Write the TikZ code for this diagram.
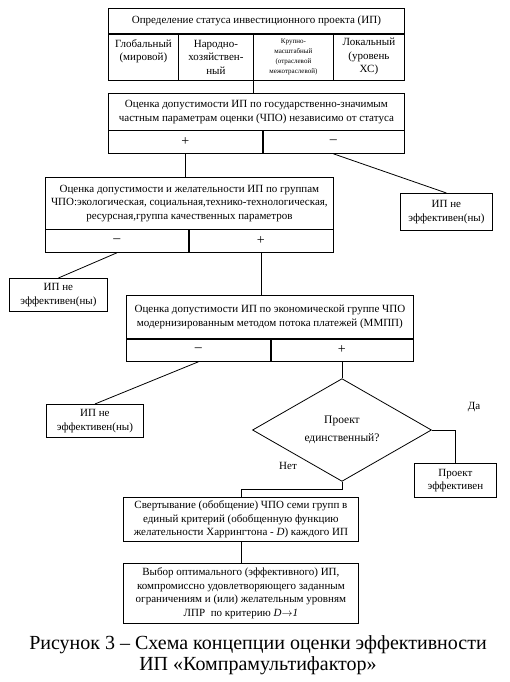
\documentclass[tikz,border=0pt]{standalone}
\usepackage{fontspec}
\setmainfont{Liberation Serif}
\usetikzlibrary{positioning,shapes.geometric,calc}
\tikzset{
  every node/.style={font=\rmfamily\fontsize{11}{13.5}\selectfont},
  cell/.style={
    rectangle, draw, line width=0.8pt,
    anchor=north west, inner sep=0pt,
    align=center
  },
  tinycell/.style={
    cell, font=\rmfamily\fontsize{7}{10}\selectfont
  },
  signcell/.style={
    cell, font=\rmfamily\fontsize{14}{14}\selectfont
  },
  decision/.style={
    diamond, draw, line width=0.8pt,
    minimum width=179pt, minimum height=85pt,
    inner sep=0pt, align=center,
    font=\rmfamily\fontsize{11.5}{18}\selectfont
  },
  link/.style={line width=0.8pt},
  divline/.style={line width=1.8pt},
}

\begin{document}
\begin{tikzpicture}[x=1pt,y=-1pt]
  \useasboundingbox (0,0) rectangle (510,682);
  \node[cell, minimum width=296pt, minimum height=25pt] (t0) at (108,8) {Определение статуса инвестиционного проекта (ИП)};
  \node[cell, minimum width=70pt, minimum height=47pt] (g1) at (108,33) {Глобальный\\(мировой)\\\mbox{}};
  \node[cell, minimum width=75pt, minimum height=47pt] (g2) at (178,33) {Народно-\\хозяйствен-\\ный};
  \node[tinycell, minimum width=80pt, minimum height=47pt] (g3) at (253,33) {Крупно-\\масштабный\\(отраслевой\\межотраслевой)};
  \node[cell, minimum width=71pt, minimum height=47pt] (g4) at (333,33) {Локальный\\(уровень\\ХС)};
  \draw[divline] (t0.south west) -- (t0.south east);

  \node[cell, minimum width=296pt, minimum height=37pt] (b2) at (108,93) {Оценка допустимости ИП по государственно-значимым\\частным параметрам оценки (ЧПО) независимо от статуса};
  \node[signcell, minimum width=154pt, minimum height=23pt] (b2p) at (108,130) {+};
  \node[signcell, minimum width=142pt, minimum height=23pt] (b2m) at (262,130) {–};
  \draw[divline] (b2p.north east) -- (b2p.south east);

  \node[cell, minimum width=92pt, minimum height=37pt] (n1) at (400,193) {ИП не\\эффективен(ны)};

  \node[cell, minimum width=288pt, minimum height=52pt] (b3) at (45,177) {Оценка допустимости и желательности ИП по группам\\ЧПО:экологическая, социальная,технико-технологическая,\\ресурсная,группа качественных параметров};
  \node[signcell, minimum width=143pt, minimum height=23pt] (b3m) at (45,229) {–};
  \node[signcell, minimum width=145pt, minimum height=23pt] (b3p) at (188,229) {+};
  \draw[divline] (b3m.north east) -- (b3m.south east);

  \node[cell, minimum width=98pt, minimum height=33pt] (n2) at (9,278) {ИП не\\эффективен(ны)};

  \node[cell, minimum width=287pt, minimum height=43pt] (b4) at (126,295) {Оценка допустимости ИП по экономической группе ЧПО\\модернизированным методом потока платежей (ММПП)};
  \node[signcell, minimum width=144pt, minimum height=23pt] (b4m) at (126,338) {–};
  \node[signcell, minimum width=143pt, minimum height=23pt] (b4p) at (270,338) {+};
  \draw[divline] (b4.south west) -- (b4.south east);
  \draw[divline] (b4m.north east) -- (b4m.south east);

  \node[cell, minimum width=97pt, minimum height=33pt] (n3) at (46,404) {ИП не\\эффективен(ны)};

  \node[decision] (d) at (342,430) {Проект\\единственный?};
  \node[cell, minimum width=82pt, minimum height=34pt] (n4) at (414,463) {Проект\\эффективен};
  \node (da) at (474,407) {Да};
  \node (net) at (288,466) {Нет};

  \node[cell, minimum width=235pt, minimum height=44pt] (b5) at (123,497) {Свертывание (обобщение) ЧПО семи групп в\\единый критерий (обобщенную функцию\\желательности Харрингтона - \textit{D}) каждого ИП};
  \node[cell, minimum width=235pt, minimum height=60pt] (b6) at (123,563) {Выбор оптимального (эффективного) ИП,\\компромиссно удовлетворяющего заданным\\ограничениям и (или) желательным уровням\\ЛПР \ по критерию \textit{D}$\rightarrow$\textit{1}};

  \node[font=\rmfamily\fontsize{20}{21}\selectfont, align=center] (cap) at (258,655) {Рисунок 3 -- Схема концепции оценки эффективности\\ИП «Компрамультифактор»};

  \draw[link] (g3.south west) -- (g3.south west |- b2.north);
  \draw[link] (b2p.south) -- (b2p.south |- b3.north);
  \draw[link] (b2m.south) -- (n1.north);
  \draw[link] (b3m.south) -- (n2.north);
  \draw[link] (b3p.south) -- (b3p.south |- b4.north);
  \draw[link] (b4m.south) -- (n3.north);
  \draw[link] (b4p.south) -- (b4p.south |- d.north);
  \draw[link] (d.east) -| (n4.north);
  \draw[link] (d.south) -- ++(0,8) -| (b5.north);
  \draw[link] (b5.south) -- (b6.north);
\end{tikzpicture}
\end{document}
